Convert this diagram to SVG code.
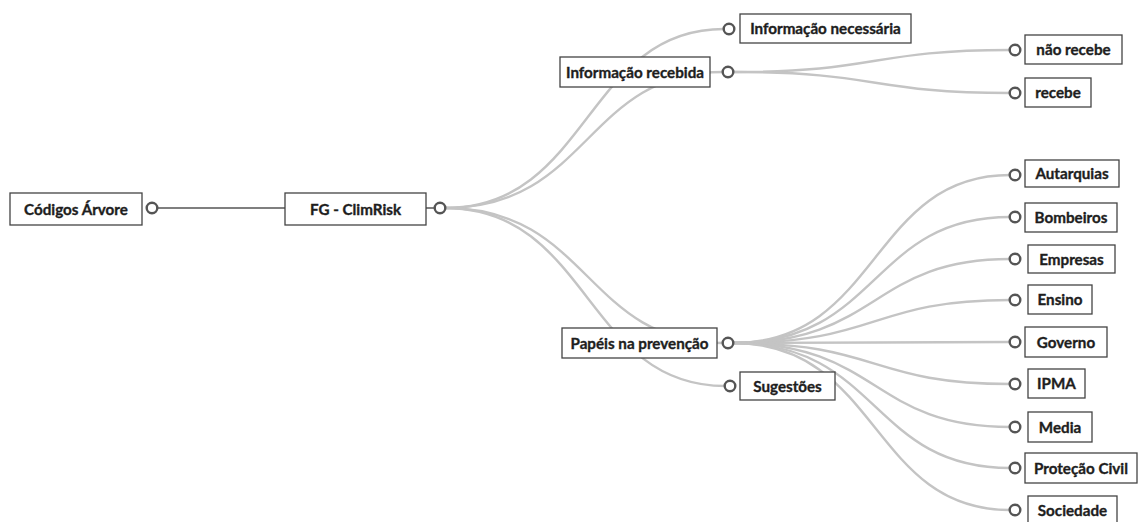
<svg xmlns="http://www.w3.org/2000/svg" width="1138" height="522" viewBox="0 0 1138 522">
<style>
.box{fill:#fff;stroke:#444;stroke-width:1.3}
.t{font-family:Lato,"Open Sans","Liberation Sans",sans-serif;font-weight:700;font-size:15.2px;fill:#1e1e1e;stroke:#1e1e1e;stroke-width:0.35;text-anchor:middle}
.c{fill:#fff;stroke:#555;stroke-width:2.4}
.e{fill:none;stroke:#c4c4c4;stroke-width:2.4}
.root{fill:none;stroke:#555;stroke-width:1.5}
</style>
<rect width="1138" height="522" fill="#fff"/>
<g id="connectors">
<path class="root" d="M158,208 H285"/>
<path class="root" d="M426,208 H435"/>
<path class="e" d="M445,208 C590,208 585,29 724,29"/>
<path class="e" d="M445,208 C590,208 585,72 723,72"/>
<path class="e" d="M445,208 C590,208 585,343 723,343"/>
<path class="e" d="M445,208 C590,208 585,386 725,386"/>
<path class="e" d="M733,72 C880,72 870,50 1010,50"/>
<path class="e" d="M733,72 C880,72 870,93 1010,93"/>
<path class="e" d="M733,343 C880,343 870,175 1010,175"/>
<path class="e" d="M733,343 C880,343 870,217 1010,217"/>
<path class="e" d="M733,343 C880,343 870,259 1010,259"/>
<path class="e" d="M733,343 C880,343 870,300 1010,300"/>
<path class="e" d="M733,343 C880,343 870,342 1010,342"/>
<path class="e" d="M733,343 C880,343 870,384 1010,384"/>
<path class="e" d="M733,343 C880,343 870,427 1010,427"/>
<path class="e" d="M733,343 C880,343 870,468 1010,468"/>
<path class="e" d="M733,343 C880,343 870,510 1010,510"/>
</g>
<g id="n-codigos"><rect class="box" x="10" y="193" width="132" height="32"/><text class="t" x="76" y="214.5">Códigos Árvore</text><circle class="c" cx="152" cy="208" r="5.3"/></g>
<g id="n-fg"><rect class="box" x="285" y="193" width="141" height="32"/><text class="t" x="355.5" y="214.5">FG - ClimRisk</text><circle class="c" cx="440" cy="208" r="5.3"/></g>
<g id="n-infnec"><rect class="box" x="740" y="14" width="171" height="29"/><text class="t" x="825.5" y="34">Informação necessária</text><circle class="c" cx="729" cy="29" r="5.3"/></g>
<g id="n-infrec"><rect class="box" x="560" y="57" width="150" height="30"/><text class="t" x="635" y="77.5">Informação recebida</text><circle class="c" cx="728" cy="72" r="5.3"/></g>
<g id="n-naorecebe"><rect class="box" x="1025" y="35" width="97" height="29"/><text class="t" x="1073.5" y="55">não recebe</text><circle class="c" cx="1015" cy="50" r="5.3"/></g>
<g id="n-recebe"><rect class="box" x="1025" y="78" width="66" height="29"/><text class="t" x="1058" y="98">recebe</text><circle class="c" cx="1015" cy="93" r="5.3"/></g>
<g id="n-papeis"><rect class="box" x="562" y="328" width="155" height="30"/><text class="t" x="639.5" y="348.5">Papéis na prevenção</text><circle class="c" cx="728" cy="343" r="5.3"/></g>
<g id="n-sugestoes"><rect class="box" x="740" y="372" width="95" height="28"/><text class="t" x="787.5" y="391.5">Sugestões</text><circle class="c" cx="730" cy="386" r="5.3"/></g>
<g id="n-autarquias"><rect class="box" x="1025" y="160" width="94" height="27"/><text class="t" x="1072" y="179">Autarquias</text><circle class="c" cx="1015" cy="175" r="5.3"/></g>
<g id="n-bombeiros"><rect class="box" x="1025" y="203" width="92" height="29"/><text class="t" x="1071" y="222.5">Bombeiros</text><circle class="c" cx="1015" cy="217" r="5.3"/></g>
<g id="n-empresas"><rect class="box" x="1028" y="245" width="87" height="28"/><text class="t" x="1071.5" y="264.5">Empresas</text><circle class="c" cx="1015" cy="259" r="5.3"/></g>
<g id="n-ensino"><rect class="box" x="1028" y="285" width="64" height="29"/><text class="t" x="1060" y="305">Ensino</text><circle class="c" cx="1015" cy="300" r="5.3"/></g>
<g id="n-governo"><rect class="box" x="1025" y="327" width="82" height="30"/><text class="t" x="1066" y="347.5">Governo</text><circle class="c" cx="1015" cy="342" r="5.3"/></g>
<g id="n-ipma"><rect class="box" x="1028" y="369" width="57" height="29"/><text class="t" x="1056.5" y="389">IPMA</text><circle class="c" cx="1015" cy="384" r="5.3"/></g>
<g id="n-media"><rect class="box" x="1028" y="412" width="64" height="30"/><text class="t" x="1060" y="432.5">Media</text><circle class="c" cx="1015" cy="427" r="5.3"/></g>
<g id="n-protecao"><rect class="box" x="1025" y="453" width="112" height="30"/><text class="t" x="1081" y="473.5">Proteção Civil</text><circle class="c" cx="1015" cy="468" r="5.3"/></g>
<g id="n-sociedade"><rect class="box" x="1028" y="496" width="89" height="30"/><text class="t" x="1072.5" y="516">Sociedade</text><circle class="c" cx="1015" cy="510" r="5.3"/></g>
</svg>
